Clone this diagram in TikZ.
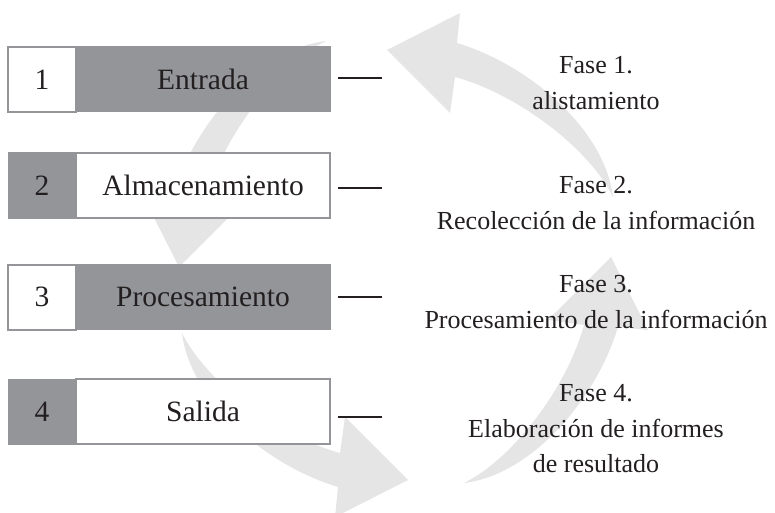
\documentclass[tikz,border=0pt]{standalone}
\usepackage{fontspec}
\setmainfont{Liberation Serif}
\definecolor{boxgray}{RGB}{147,149,152}
\definecolor{arrowgray}{RGB}{229,229,229}
\definecolor{ink}{RGB}{35,31,32}
\newcommand\bxfont{\fontsize{29.5}{35}\selectfont}
\newcommand\phfont{\fontsize{26}{35.5}\selectfont}
\newcommand\cyclearrow[1]{%
  \fill[arrowgray,#1] (613,197) .. controls (605,130) and (530,65) .. (457,43)
    -- (460,13) -- (387,50) -- (450,113) -- (455,77)
    .. controls (520,95) and (590,150) .. (613,197) -- cycle;}
\begin{document}
\begin{tikzpicture}[x=1pt,y=-1pt,
  boxbase/.style={minimum height=65pt, inner sep=0pt, font=\bxfont,
    text height=19.5pt, text depth=0pt, text=ink},
  numbox/.style={boxbase, minimum width=68pt},
  lblbox/.style={boxbase, minimum width=254pt},
  darkbox/.style={fill=boxgray, draw=boxgray, line width=1pt},
  lightbox/.style={fill=white, draw=boxgray, line width=2pt},
  phase/.style={font=\phfont, align=center, text=ink, inner sep=0pt, anchor=north},
  tick/.style={draw=ink, line width=2.5pt}]
\useasboundingbox (0,0) rectangle (775,513);
% background cycle arrows
\cyclearrow{}
\cyclearrow{shift={(-3,-4)},rotate around={90:(395,263)}}
\cyclearrow{shift={(5,4)},rotate around={180:(395,263)}}
\cyclearrow{shift={(3,2)},rotate around={-90:(395,263)}}
% rows
\node[numbox,lightbox] (n1) at (42,79.5) {1};
\node[lblbox,darkbox]  (l1) at (203,79.5) {Entrada};
\node[numbox,darkbox]  (n2) at (42,185.5) {2};
\node[lblbox,lightbox] (l2) at (203,185.5) {Almacenamiento};
\node[numbox,lightbox] (n3) at (42,297) {3};
\node[lblbox,darkbox]  (l3) at (203,297) {Procesamiento};
\node[numbox,darkbox]  (n4) at (42,411.5) {4};
\node[lblbox,lightbox] (l4) at (203,411.5) {Salida};
% dashes
\coordinate (d1a) at (338,78);  \coordinate (d1b) at (382,78);
\coordinate (d2a) at (338,188); \coordinate (d2b) at (382,188);
\coordinate (d3a) at (338,297); \coordinate (d3b) at (382,297);
\coordinate (d4a) at (338,417); \coordinate (d4b) at (382,417);
\draw[tick] (d1a) -- (d1b);
\draw[tick] (d2a) -- (d2b);
\draw[tick] (d3a) -- (d3b);
\draw[tick] (d4a) -- (d4b);
% phases
\node[phase] (f1) at (596,56.4) {Fase 1.\\alistamiento};
\node[phase] (f2) at (596,176.4) {Fase 2.\\Recolección de la información};
\node[phase] (f3) at (596,275.4) {Fase 3.\\Procesamiento de la información};
\node[phase] (f4) at (596,384.4) {Fase 4.\\Elaboración de informes\\de resultado};
\end{tikzpicture}
\end{document}
